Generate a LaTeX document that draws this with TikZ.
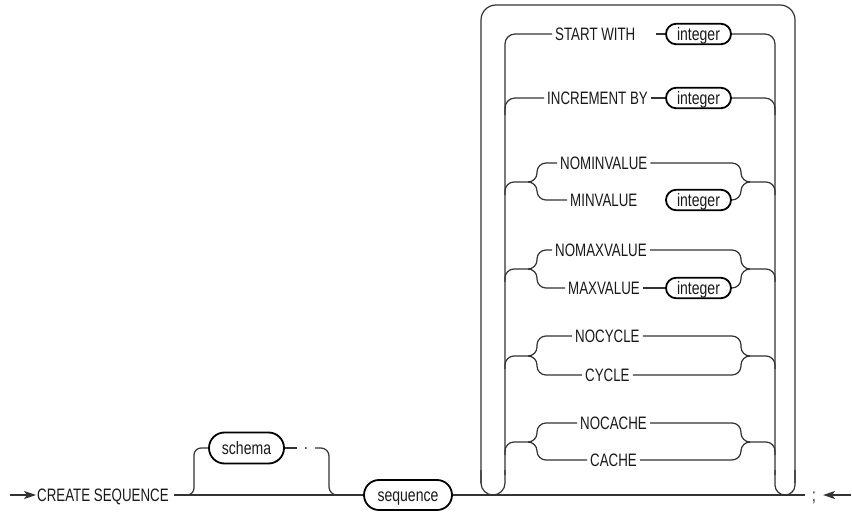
\documentclass[tikz,border=0pt]{standalone}
\usepackage{fontspec}
\newfontfamily\diafont[FakeStretch=0.74]{Liberation Sans}
\newfontfamily\termfont[FakeStretch=0.78]{Liberation Sans}
\usetikzlibrary{arrows.meta}
\begin{document}
\begin{tikzpicture}[x=1pt,y=-1pt,
  conn/.style={line width=1.2pt, draw=black!80},
  tip/.style={-{Stealth[length=12pt,width=8pt,inset=3pt]}},
  kw/.style={font=\diafont\fontsize{18}{20}\selectfont, text=black!90,
    inner xsep=3pt, inner ysep=0pt, text height=12.9pt, text depth=0pt},
  term/.style={kw, font=\termfont\fontsize{18}{20}\selectfont, draw=black, line width=1.8pt, inner sep=0pt},
  intnode/.style={term, minimum width=65pt, minimum height=20.5pt, rounded corners=10.25pt},
]
\useasboundingbox (0,0) rectangle (852,513);

% ---- main line, schema and sequence name ----
\node[kw, anchor=west, inner xsep=1pt] (cs) at (36,495) {CREATE SEQUENCE};
\coordinate (lin) at (10,495);
\draw[conn, tip] (lin) -- (cs.west);

\node[term, minimum width=75pt, minimum height=31pt, rounded corners=15.5pt] (schema) at (246.5,448) {schema};
\node[term, minimum width=88pt, minimum height=30pt, rounded corners=15pt] (seq) at (408,495) {sequence};
\node[kw, text height=3pt, inner xsep=7pt] (dot) at (306,448) {.};

\coordinate (m0) at (174,495);
\draw[conn] (m0) -- (seq.west);
\coordinate (sb) at (185,495);
\draw[conn, rounded corners=7pt] (sb) -- (194,495) -- (194,448) -- (schema.west);
\draw[conn] (schema.east) -- (dot.west);
\coordinate (sj) at (340,495);
\draw[conn, rounded corners=8pt] (dot.east) -- (329,448) -- (329,495) -- (sj);

% ---- end of statement ----
\node[kw, inner xsep=7pt] (semi) at (814,495) {;};
\draw[conn] (seq.east) -- (semi.west);
\coordinate (rin) at (851,495);
\draw[conn, tip] (rin) -- (semi.east);

% ---- repetition loop ----
\draw[conn, rounded corners=15pt] (481,483) -- (481,5) -- (795,5) -- (795,483);
\draw[conn, rounded corners=12pt] (481,470) -- (481,495) -- (505,495) -- (505,470);
\draw[conn, rounded corners=10pt] (775,470) -- (775,495) -- (795,495) -- (795,470);

% START WITH
\node[kw, anchor=west] (sw) at (552,34) {START WITH};
\node[intnode] (i1) at (698.5,34) {integer};
\draw[conn, rounded corners=10pt] (505,475) -- (505,34) -- (sw.west);
\draw[conn] (i1.west) -- ++(-9,0);
\draw[conn, rounded corners=10pt] (i1.east) -- (775,34) -- (775,475);

% INCREMENT BY
\node[kw, anchor=west] (ib) at (544,98) {INCREMENT BY};
\node[intnode] (i2) at (698.5,98) {integer};
\draw[conn, rounded corners=10pt] (505,115) -- (505,98) -- (ib.west);
\draw[conn] (ib.east) -- (i2.west);
\draw[conn, rounded corners=10pt] (i2.east) -- (775,98) -- (775,115);

% NOMINVALUE / MINVALUE
\node[kw, anchor=west] (nominv) at (557,163) {NOMINVALUE};
\node[kw, anchor=west] (minv) at (567,200) {MINVALUE};
\node[intnode] (i3) at (698.5,200) {integer};
\draw[conn, rounded corners=9pt] (505,195) -- (505,182) -- (537,182) -- (537,163) -- (nominv.west);
\draw[conn, rounded corners=9pt] (528,182) -- (537,182) -- (537,200) -- (minv.west);
\draw[conn, rounded corners=9pt] (nominv.east) -- (741,163) -- (741,182) -- (775,182) -- (775,195);
\draw[conn, rounded corners=9pt] (i3.east) -- (741,200) -- (741,182) -- (750,182);

% NOMAXVALUE / MAXVALUE
\node[kw, anchor=west] (nomaxv) at (552,250) {NOMAXVALUE};
\node[kw, anchor=west] (maxv) at (565,288) {MAXVALUE};
\node[intnode] (i4) at (698.5,288) {integer};
\draw[conn, rounded corners=9pt] (505,282) -- (505,269) -- (537,269) -- (537,250) -- (nomaxv.west);
\draw[conn, rounded corners=9pt] (528,269) -- (537,269) -- (537,288) -- (maxv.west);
\draw[conn] (maxv.east) -- (i4.west);
\draw[conn, rounded corners=9pt] (nomaxv.east) -- (741,250) -- (741,269) -- (775,269) -- (775,282);
\draw[conn, rounded corners=9pt] (i4.east) -- (741,288) -- (741,269) -- (750,269);

% NOCYCLE / CYCLE
\node[kw, anchor=west] (nocyc) at (572,336) {NOCYCLE};
\node[kw, anchor=west] (cyc) at (582,375) {CYCLE};
\draw[conn, rounded corners=9pt] (505,369) -- (505,356) -- (537,356) -- (537,336) -- (nocyc.west);
\draw[conn, rounded corners=9pt] (528,356) -- (537,356) -- (537,375) -- (cyc.west);
\draw[conn, rounded corners=9pt] (nocyc.east) -- (741,336) -- (741,356) -- (775,356) -- (775,369);
\draw[conn, rounded corners=9pt] (cyc.east) -- (741,375) -- (741,356) -- (750,356);

% NOCACHE / CACHE
\node[kw, anchor=west] (nocac) at (577,423) {NOCACHE};
\node[kw, anchor=west] (cac) at (587,460) {CACHE};
\draw[conn, rounded corners=9pt] (505,455) -- (505,442) -- (537,442) -- (537,423) -- (nocac.west);
\draw[conn, rounded corners=9pt] (528,442) -- (537,442) -- (537,460) -- (cac.west);
\draw[conn, rounded corners=9pt] (nocac.east) -- (741,423) -- (741,442) -- (775,442) -- (775,455);
\draw[conn, rounded corners=9pt] (cac.east) -- (741,460) -- (741,442) -- (750,442);
\end{tikzpicture}
\end{document}
